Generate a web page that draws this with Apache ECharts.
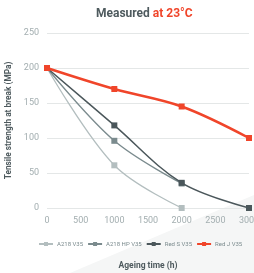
<!DOCTYPE html>
<html>
<head>
<meta charset="utf-8">
<script src="https://cdn.jsdelivr.net/npm/echarts@6/dist/echarts.min.js"></script>
<style>
  html, body { margin: 0; padding: 0; background: #fff; }
  #chart { width: 254px; height: 273px; }
</style>
</head>
<body>
<div id="chart"></div>
<script>
// ageing time (h) and tensile strength (MPa)
const ageing = [0, 1000, 2000, 3000];
const a218 = [200, 61, 0];
const a218hp = [200, 96, 35];
const redS = [200, 118, 36, 0];
const redJ = [200, 170, 145, 100];
const seriesNames = ["A218 V35", "A218 HP V35", "Red S V35", "Red J V35"];
const seriesColors = ["#b3bebf", "#7b8b8e", "#4b575b", "#f0452a"];

const pairs = vals => vals.map((v, i) => [ageing[i], v]);

const chart = echarts.init(document.getElementById("chart"));

const mkSeries = (idx, vals, width) => ({
  name: seriesNames[idx],
  type: "line",
  data: pairs(vals),
  smooth: 0.35,
  symbol: "rect",
  symbolSize: 6,
  color: seriesColors[idx],
  lineStyle: { width: width, color: seriesColors[idx] },
  itemStyle: { color: seriesColors[idx] },
  z: 2 + idx
});

chart.setOption({
  backgroundColor: "#fff",
  textStyle: { fontFamily: "Roboto" },
  graphic: [
    {
      type: "polygon",
      z: -10,
      silent: true,
      shape: { points: [[70, 273], [254, 195], [254, 273]] },
      style: { fill: "#f5f6f6" }
    }
  ],
  title: {
    text: "{a|Measured }{b|at 23°C}",
    left: 91,
    top: 3,
    textStyle: {
      rich: {
        a: { fontSize: 12, fontWeight: "bold", color: "#4e5a5e", fontFamily: "Roboto" },
        b: { fontSize: 12, fontWeight: "bold", color: "#f0452a", fontFamily: "Roboto" }
      }
    }
  },
  legend: {
    bottom: 21,
    left: 33,
    width: 240,
    itemWidth: 14,
    itemHeight: 5,
    itemGap: 4,
    textStyle: { fontSize: 6, color: "#7b8b8e", padding: [0, 0, 0, -1] },
    data: seriesNames
  },
  grid: { left: 47, right: 5, top: 33, bottom: 65, outerBoundsMode: "none" },
  xAxis: {
    type: "value",
    min: 0,
    max: 3000,
    interval: 500,
    name: "Ageing time (h)",
    nameLocation: "middle",
    nameGap: 53,
    nameTextStyle: { fontSize: 8.5, fontWeight: "bold", color: "#4e5a5e" },
    axisLine: { show: false },
    axisTick: { show: false },
    splitLine: { show: false },
    axisLabel: { fontSize: 9, color: "#a3aeb0", margin: 8, formatter: v => String(v) }
  },
  yAxis: {
    type: "value",
    min: 0,
    max: 250,
    interval: 50,
    name: "Tensile strength at break (MPa)",
    nameLocation: "middle",
    nameGap: 30,
    nameTextStyle: { fontSize: 8.3, fontWeight: "bold", color: "#4e5a5e" },
    axisLine: { show: false },
    axisTick: { show: false },
    splitLine: { lineStyle: { color: "#e4e7e7", width: 1 } },
    axisLabel: { fontSize: 9, color: "#a3aeb0", margin: 8 }
  },
  series: [
    mkSeries(0, a218, 1.3),
    mkSeries(1, a218hp, 1.3),
    mkSeries(2, redS, 1.5),
    mkSeries(3, redJ, 2.5)
  ]
});
</script>
</body>
</html>
